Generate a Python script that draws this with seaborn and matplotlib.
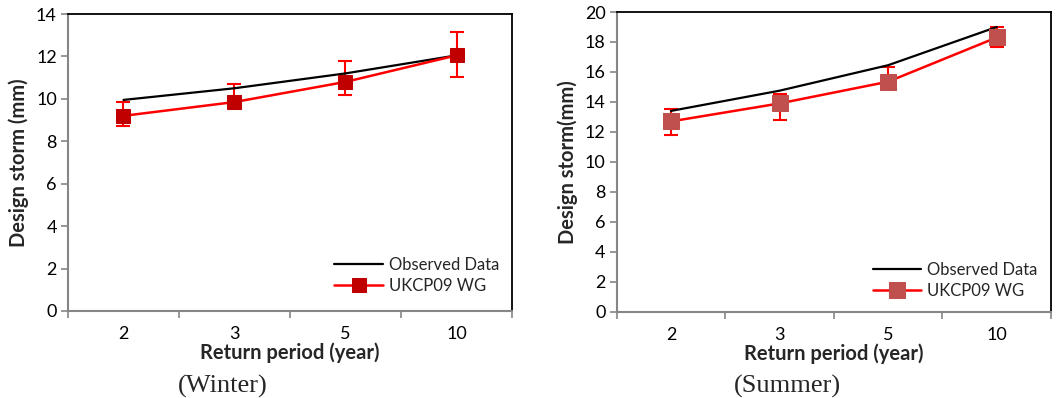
import numpy as np
import pandas as pd
import matplotlib
matplotlib.use("Agg")
import matplotlib.pyplot as plt
import seaborn as sns

# Data
return_periods = ["2", "3", "5", "10"]

winter_observed = [9.95, 10.5, 11.2, 12.05]
winter_wg = [9.2, 9.85, 10.8, 12.05]
winter_err_low = [8.72, 9.6, 10.16, 11.05]
winter_err_high = [9.87, 10.7, 11.79, 13.15]

summer_observed = [13.4, 14.75, 16.45, 19.0]
summer_wg = [12.7, 13.9, 15.35, 18.3]
summer_err_low = [11.8, 12.8, 15.0, 17.65]
summer_err_high = [13.5, 14.5, 16.3, 19.0]

sns.set_theme(style="white")
plt.rcParams['font.family'] = ['Lato', 'DejaVu Sans']

fig = plt.figure(figsize=(10.57, 3.98), dpi=100)
ax1 = fig.add_axes([0.0643, 0.2186, 0.4201, 0.7462])
ax2 = fig.add_axes([0.5834, 0.2168, 0.4109, 0.7530])

panels = [
    (ax1, winter_observed, winter_wg, winter_err_low, winter_err_high, "#C00000",
     14, "Design storm (mm)", 10, (0.585, 0.035)),
    (ax2, summer_observed, summer_wg, summer_err_low, summer_err_high, "#C0504D",
     20, "Design storm(mm)", 11, (0.575, 0.02)),
]

for ax, obs, wg, lo, hi, mcol, ymax, ylab, msize, legpos in panels:
    df = pd.DataFrame({"period": return_periods, "observed": obs, "wg": wg})
    wg_arr = np.array(wg)
    yerr = [wg_arr - np.array(lo), np.array(hi) - wg_arr]
    ax.errorbar(df["period"], df["wg"], yerr=yerr, fmt="none", ecolor="#FF0000",
                elinewidth=1.5, capsize=5, capthick=1.5, zorder=2)
    sns.lineplot(data=df, x="period", y="observed", ax=ax, color="black",
                 linewidth=1.6, label="Observed Data", zorder=3)
    sns.lineplot(data=df, x="period", y="wg", ax=ax, color="#FF0000",
                 linewidth=1.8, marker="s", markersize=msize,
                 markerfacecolor=mcol, markeredgecolor=mcol,
                 label="UKCP09 WG", zorder=4)

    ax.set_xlim(-0.5, 3.5)
    ax.set_ylim(0, ymax)
    ax.set_yticks(np.arange(0, ymax + 1, 2))
    ax.set_xticks([-0.5, 0.5, 1.5, 2.5, 3.5])
    ax.set_xticklabels([])
    ax.set_xticks(range(len(return_periods)), minor=True)
    ax.set_xticklabels(return_periods, minor=True)
    ax.tick_params(axis="x", which="major", direction="out", length=5,
                   color="#868686", width=1.2, bottom=True)
    ax.tick_params(axis="x", which="minor", length=0, pad=11, labelsize=13,
                   labelcolor="black")
    ax.tick_params(axis="y", direction="out", length=5, color="#868686",
                   width=1.2, left=True, labelsize=13, labelcolor="black", pad=3)

    for side in ["top", "right"]:
        ax.spines[side].set_color("black")
        ax.spines[side].set_linewidth(1.3)
    for side in ["left", "bottom"]:
        ax.spines[side].set_color("#868686")
        ax.spines[side].set_linewidth(1.5)

    ax.set_xlabel("Return period (year)", fontsize=14.5, fontweight="bold", labelpad=0)
    ax.set_ylabel(ylab, fontsize=14.5, fontweight="bold", labelpad=5)

    handles, labels = ax.get_legend_handles_labels()
    ax.legend(handles, labels, loc="lower left", bbox_to_anchor=legpos,
              frameon=False, fontsize=12, handlelength=2.9, handletextpad=0.35,
              labelspacing=0.3, borderaxespad=0)

fig.text(0.211, 0.0, "(Winter)", family="Liberation Serif", fontsize=19,
         ha="center", va="bottom")
fig.text(0.745, 0.0, "(Summer)", family="Liberation Serif", fontsize=19,
         ha="center", va="bottom")

fig.savefig("out.png", dpi=100)
